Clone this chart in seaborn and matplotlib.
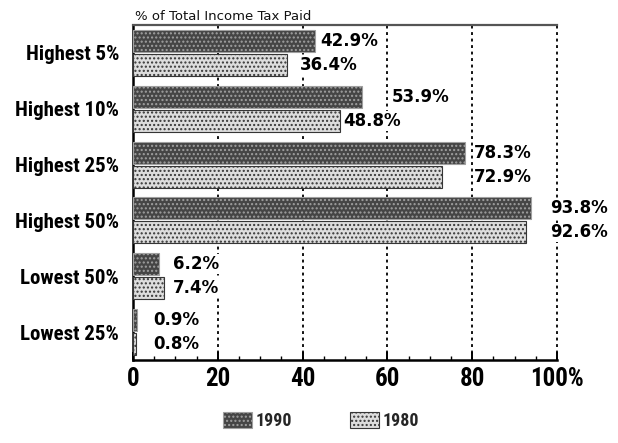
import matplotlib
matplotlib.use("Agg")
import matplotlib.pyplot as plt
from matplotlib import font_manager
from matplotlib.patches import Patch
from matplotlib.ticker import MultipleLocator
import seaborn as sns
import pandas as pd

# ---- data -------------------------------------------------------------
categories = ["Highest 5%", "Highest 10%", "Highest 25%",
              "Highest 50%", "Lowest 50%", "Lowest 25%"]
share_1990 = [42.9, 53.9, 78.3, 93.8, 6.2, 0.9]
share_1980 = [36.4, 48.8, 72.9, 92.6, 7.4, 0.8]
years = ["1990", "1980"]
x_ticks = [0, 20, 40, 60, 80, 100]
x_tick_labels = ["0", "20", "40", "60", "80", "100%"]
title = "% of Total Income Tax Paid"

# ---- layout: where each value label starts (axis units) ---------------
label_x_1990 = [44.1, 61.1, 80.4, 98.3, 9.4, 4.7]
label_x_1980 = [39.4, 49.5, 80.4, 98.3, 9.4, 4.7]

df = pd.DataFrame({
    "group": categories * 2,
    "year": [years[0]] * len(categories) + [years[1]] * len(categories),
    "share": share_1990 + share_1980,
})

sns.set_style("white")
plt.rcParams["font.family"] = ["DejaVu Sans"]
plt.rcParams["hatch.linewidth"] = 1.0

# pick a condensed family for the heavy labels if one is available
installed = {f.name for f in font_manager.fontManager.ttflist}
condensed = None
for cand in ["Liberation Sans Narrow", "DejaVu Sans Condensed",
             "Roboto Condensed", "Open Sans Condensed", "Noto Sans Condensed"]:
    if cand in installed:
        condensed = cand
        break
if condensed is not None:
    HEAVY = [condensed, "DejaVu Sans"]
    ytick_size, xtick_size, legend_size = 15, 18, 13
else:
    HEAVY = ["DejaVu Sans"]
    ytick_size, xtick_size, legend_size = 11, 14, 11.5

styles = {
    "1990": dict(face="#454545", hatch="#a0a0a0", edge="#2a2a2a"),
    "1980": dict(face="#dddddd", hatch="#363636", edge="#1a1a1a"),
}


def style_patch(p, year):
    s = styles[year]
    p.set_facecolor(s["face"])
    p.set_hatch("....")
    if hasattr(p, "set_hatchcolor"):
        p.set_hatchcolor(s["hatch"])
        p.set_edgecolor(s["edge"])
    else:
        p.set_edgecolor(s["hatch"])
    p.set_linewidth(0.8)


fig = plt.figure(figsize=(6.18, 4.43), dpi=100)
px_per_unit = 4.24
x_max = 101
ax = fig.add_axes([133 / 618, 1 - 360 / 443, x_max * px_per_unit / 618, 335 / 443])

sns.barplot(data=df, x="share", y="group", hue="year", hue_order=years,
            order=categories, palette=[styles[y]["face"] for y in years],
            orient="h", width=0.86, gap=0.08, legend=False, ax=ax, zorder=3)

for container, year in zip(ax.containers, years):
    for bar in container:
        style_patch(bar, year)

# value labels
for container, label_x in zip(ax.containers, [label_x_1990, label_x_1980]):
    for bar, lx in zip(container, label_x):
        v = bar.get_width()
        yc = bar.get_y() + bar.get_height() / 2
        ax.text(lx, yc, f"{v:.1f}%", ha="left", va="center",
                fontsize=12, fontweight="bold", color="black", zorder=5,
                bbox=dict(facecolor="white", edgecolor="none", pad=0.6))

ax.set_xlim(0, x_max)
ax.set_ylim(len(categories) - 0.5, -0.5)
ax.set_xlabel("")
ax.set_ylabel("")

ax.set_xticks(x_ticks)
ax.set_xticklabels(x_tick_labels, family=HEAVY, fontweight="bold",
                   fontsize=xtick_size, color="black")
ax.xaxis.set_minor_locator(MultipleLocator(5))
ax.tick_params(axis="x", which="major", direction="in", length=6, width=1.4,
               color="black", pad=5, bottom=True)
ax.tick_params(axis="x", which="minor", direction="in", length=3, width=1.0,
               color="black", bottom=True)
ax.set_yticks(range(len(categories)))
ax.set_yticklabels(categories, family=HEAVY, fontweight="bold",
                   fontsize=ytick_size, color="black")
ax.tick_params(axis="y", length=0, pad=10)

ax.grid(axis="x", which="major", color="black", linestyle=(0, (1.6, 2.0)),
        linewidth=1.3, zorder=1)
ax.grid(axis="y", visible=False)
ax.set_axisbelow(True)

for side in ["left", "bottom"]:
    ax.spines[side].set_color("black")
    ax.spines[side].set_linewidth(1.8)
ax.spines["top"].set_color("#555555")
ax.spines["top"].set_linewidth(1.6)
ax.spines["top"].set_bounds(0, 100)
ax.spines["bottom"].set_bounds(0, 100)
ax.spines["right"].set_visible(False)

fig.text(135 / 618, 1 - 17 / 443, title, ha="left", va="center",
         fontsize=9.5, color="#111111")

handles = []
for year in years:
    p = Patch()
    style_patch(p, year)
    handles.append(p)
fig.legend(handles=handles, labels=years, loc="center",
           bbox_to_anchor=(321 / 618, 1 - 421 / 443), ncol=2, frameon=False,
           prop=dict(family=HEAVY, weight="bold", size=legend_size),
           handlelength=1.6, handleheight=1.05, handletextpad=0.2,
           columnspacing=3.2)

fig.savefig("out.png", dpi=100, facecolor="white")
